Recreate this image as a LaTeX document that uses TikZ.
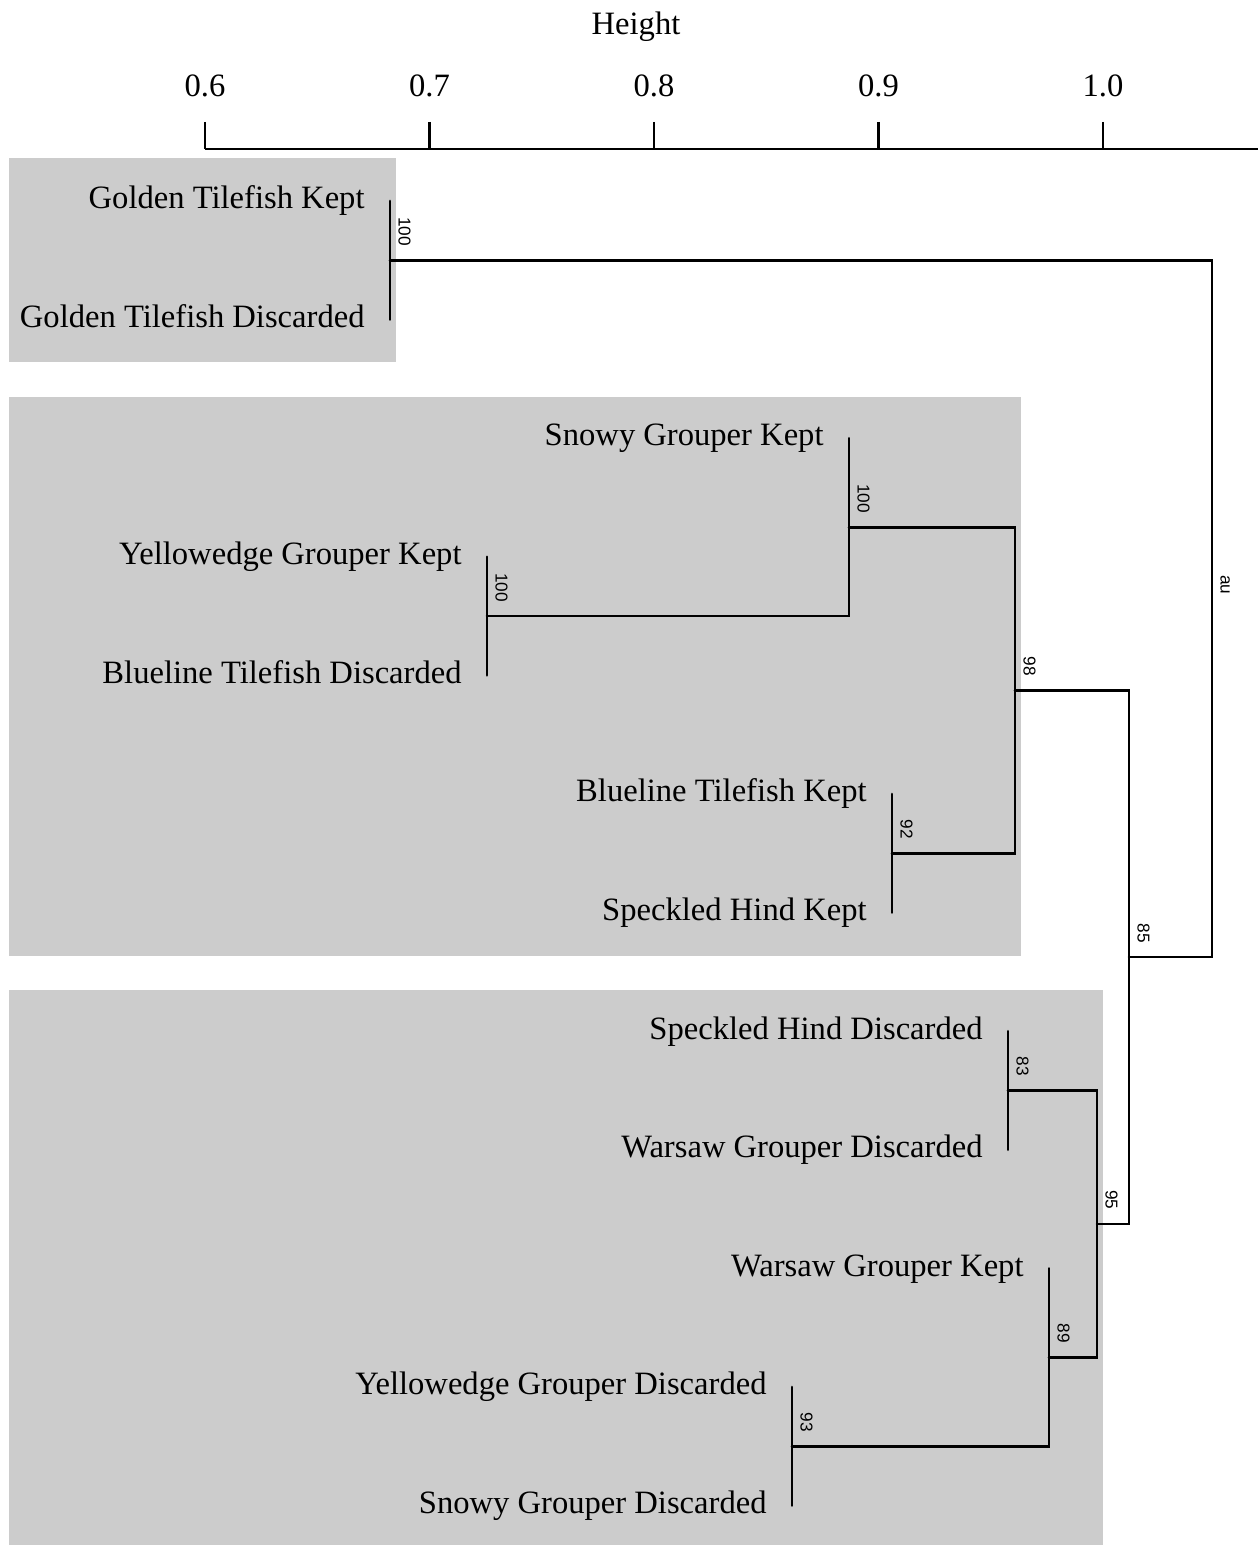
\documentclass[tikz,border=0pt]{standalone}
\usepackage{fontspec}
\setmainfont{Liberation Serif}
\newfontfamily\numfont{Liberation Sans}
\definecolor{boxgray}{RGB}{204,204,204}
\begin{document}
\begin{tikzpicture}[x=0.5pt,y=-0.5pt,
  leaf/.style={anchor=mid east,inner sep=0pt,yshift=-1.6pt,font=\fontsize{16.3}{19}\selectfont},
  tick/.style={anchor=base,inner sep=0pt,font=\fontsize{16.3}{19}\selectfont},
  pv/.style={rotate=-90,anchor=south east,inner sep=0pt,font=\numfont\fontsize{8.6}{10}\selectfont},
  tree/.style={line width=1.35pt,line cap=round,line join=miter},
  axisline/.style={line width=1.1pt},
  cluster/.style={fill=boxgray,draw=none}]
\useasboundingbox (0,0) rectangle (1258,1545);
% cluster boxes
\fill[cluster] (9,158) rectangle (396,362);
\fill[cluster] (9,397) rectangle (1021,956);
\fill[cluster] (9,990) rectangle (1103,1545);
% axis
\node[tick] (htitle) at (636,35) {Height};
\foreach \v/\x in {0.6/205,0.7/429.5,0.8/654,0.9/878.5,1.0/1103}{
  \node[tick] (t\v) at (\x,97) {\v};
  \draw[axisline] (\x,122) -- (\x,149);
}
\draw[axisline] (205,149) -- (1258,149);
% leaf tips (at merge heights)
\coordinate (l1) at (390,201);
\coordinate (l2) at (390,319.6);
\coordinate (l3) at (849,438.2);
\coordinate (l4) at (487,556.8);
\coordinate (l5) at (487,675.4);
\coordinate (l6) at (892,794);
\coordinate (l7) at (892,912.6);
\coordinate (l8) at (1008,1031.2);
\coordinate (l9) at (1008,1149.8);
\coordinate (l10) at (1049,1268.4);
\coordinate (l11) at (792,1387);
\coordinate (l12) at (792,1505.6);
% merges
\coordinate (A) at (390,260.3);
\coordinate (B) at (487,616.1);
\coordinate (C) at (849,527.15);
\coordinate (D) at (892,853.3);
\coordinate (E) at (1015,690.2);
\coordinate (F) at (1008,1090.5);
\coordinate (G) at (792,1446.3);
\coordinate (H) at (1049,1357.35);
\coordinate (I) at (1097,1223.9);
\coordinate (J) at (1129,957.1);
\coordinate (K) at (1212,608.7);
% leaf labels
\node[leaf] (n1) at ([xshift=-12.5pt]l1) {Golden Tilefish Kept};
\node[leaf] (n2) at ([xshift=-12.5pt]l2) {Golden Tilefish Discarded};
\node[leaf] (n3) at ([xshift=-12.5pt]l3) {Snowy Grouper Kept};
\node[leaf] (n4) at ([xshift=-12.5pt]l4) {Yellowedge Grouper Kept};
\node[leaf] (n5) at ([xshift=-12.5pt]l5) {Blueline Tilefish Discarded};
\node[leaf] (n6) at ([xshift=-12.5pt]l6) {Blueline Tilefish Kept};
\node[leaf] (n7) at ([xshift=-12.5pt]l7) {Speckled Hind Kept};
\node[leaf] (n8) at ([xshift=-12.5pt]l8) {Speckled Hind Discarded};
\node[leaf] (n9) at ([xshift=-12.5pt]l9) {Warsaw Grouper Discarded};
\node[leaf] (n10) at ([xshift=-12.5pt]l10) {Warsaw Grouper Kept};
\node[leaf] (n11) at ([xshift=-12.5pt]l11) {Yellowedge Grouper Discarded};
\node[leaf] (n12) at ([xshift=-12.5pt]l12) {Snowy Grouper Discarded};
% tree
\draw[tree] (l1) -- (l1 -| A) -- (l2 -| A) -- (l2);
\draw[tree] (l4) -- (l4 -| B) -- (l5 -| B) -- (l5);
\draw[tree] (l3) -- (l3 -| C) -- (B -| C) -- (B);
\draw[tree] (l6) -- (l6 -| D) -- (l7 -| D) -- (l7);
\draw[tree] (C) -- (C -| E) -- (D -| E) -- (D);
\draw[tree] (l8) -- (l8 -| F) -- (l9 -| F) -- (l9);
\draw[tree] (l11) -- (l11 -| G) -- (l12 -| G) -- (l12);
\draw[tree] (l10) -- (l10 -| H) -- (G -| H) -- (G);
\draw[tree] (F) -- (F -| I) -- (H -| I) -- (H);
\draw[tree] (E) -- (E -| J) -- (I -| J) -- (I);
\draw[tree] (A) -- (A -| K) -- (J -| K) -- (J);
% support values
\tikzset{pvpos/.style={xshift=4pt,yshift=7pt}}
\node[pv] (pA) at ([pvpos]A) {100};
\node[pv] (pB) at ([pvpos]B) {100};
\node[pv] (pC) at ([pvpos]C) {100};
\node[pv] (pD) at ([pvpos]D) {92};
\node[pv] (pE) at ([pvpos]E) {98};
\node[pv] (pF) at ([pvpos]F) {83};
\node[pv] (pG) at ([pvpos]G) {93};
\node[pv] (pH) at ([pvpos]H) {89};
\node[pv] (pI) at ([pvpos]I) {95};
\node[pv] (pJ) at ([pvpos]J) {85};
\node[pv] (pK) at ([pvpos]K) {au};
\end{tikzpicture}
\end{document}
